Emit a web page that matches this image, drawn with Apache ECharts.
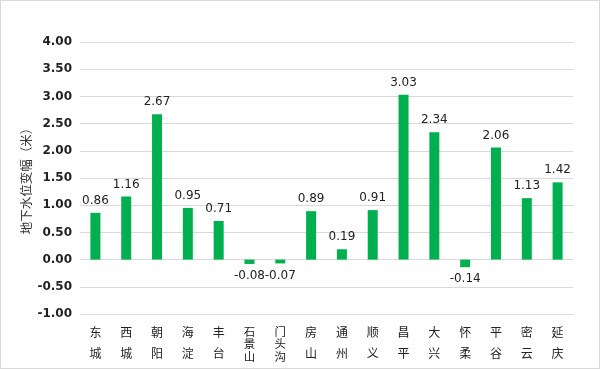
<!DOCTYPE html>
<html><head><meta charset="utf-8">
<script src="https://cdn.jsdelivr.net/npm/echarts@6/dist/echarts.min.js"></script>
<style>
html,body{margin:0;padding:0;background:#fff;}
#wrap{position:absolute;left:0;top:0;width:598px;height:367px;border:1px solid #d9d9d9;}
#c{width:598px;height:367px;}
</style></head>
<body><div id="wrap"><div id="c"></div></div>
<script>
const categories = ['东城','西城','朝阳','海淀','丰台','石景山','门头沟','房山','通州','顺义','昌平','大兴','怀柔','平谷','密云','延庆'];
const values = [0.86,1.16,2.67,0.95,0.71,-0.08,-0.07,0.89,0.19,0.91,3.03,2.34,-0.14,2.06,1.13,1.42];
const yAxisName = '地下水位变幅（米）';

const chart = echarts.init(document.getElementById('c'));
chart.setOption({
  animation:false,
  grid:{left:79,right:26,top:41,bottom:54},
  xAxis:{
    type:'category', data:categories,
    axisLine:{show:false}, axisTick:{show:false},
    axisLabel:{
      interval:0, margin:8,
      formatter:function(v){
        const ch = v.split('');
        if (ch.length>2) return '{s| }\n' + ch.map(c=>'{b|'+c+'}').join('\n');
        return ch.map(c=>'{a|'+c+'}').join('\n');
      },
      rich:{
        a:{fontFamily:'Noto Sans CJK SC',fontSize:12,color:'#222',lineHeight:21},
        b:{fontFamily:'Noto Sans CJK SC',fontSize:11.5,color:'#222',lineHeight:12.5},
        s:{fontSize:1,lineHeight:3}
      }
    }
  },
  yAxis:{
    type:'value', min:-1, max:4, interval:0.5,
    name:yAxisName, nameLocation:'middle', nameGap:47, nameRotate:90, nameMoveOverlap:false,
    nameTextStyle:{fontFamily:'Noto Sans CJK SC',fontSize:12.5,color:'#333'},
    axisLine:{show:false}, axisTick:{show:false},
    axisLabel:{margin:8,fontFamily:'DejaVu Sans',fontWeight:'bold',fontSize:12,color:'#222',
      formatter:v=>v.toFixed(2)},
    splitLine:{lineStyle:{color:'#d9d9d9',width:1}}
  },
  series:[{
    type:'bar', data:values, barWidth:10,
    itemStyle:{color:'#00b050'},
    label:{show:true,position:'outside',fontFamily:'DejaVu Sans',fontSize:12,color:'#222',
      distance:6, formatter:p=>p.value.toFixed(2)}
  }]
});
</script></body></html>
